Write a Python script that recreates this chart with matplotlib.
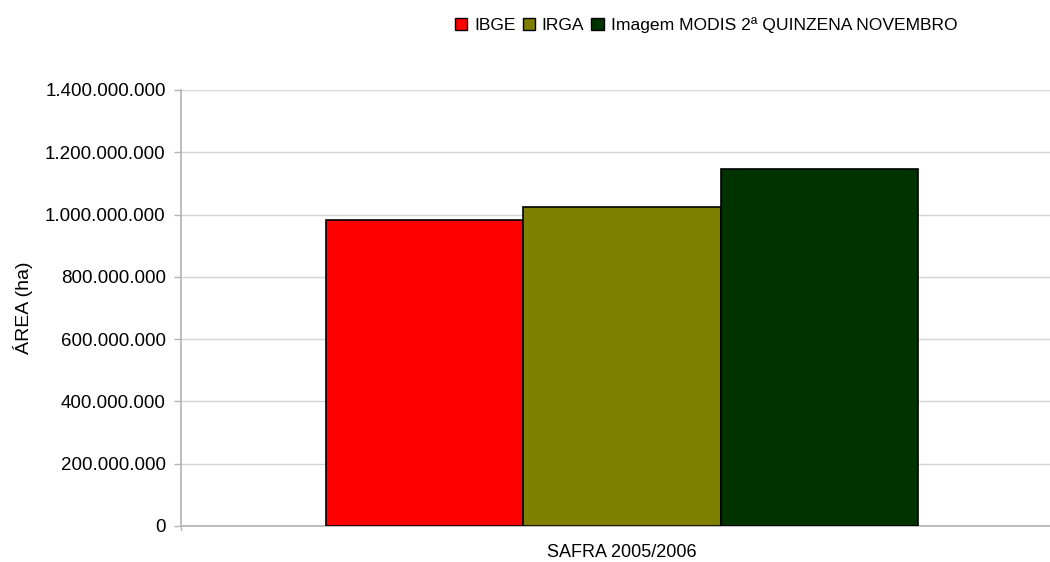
import matplotlib
matplotlib.use("Agg")
import matplotlib.pyplot as plt
from matplotlib.ticker import FuncFormatter
from matplotlib.patches import Patch

plt.rcParams['font.family'] = ['Liberation Sans', 'DejaVu Sans']

# Data
category = "SAFRA 2005/2006"
series_names = ["IBGE", "IRGA", "Imagem MODIS 2ª QUINZENA NOVEMBRO"]
series_values = [983_000_000, 1_025_000_000, 1_147_000_000]
series_colors = ["#ff0000", "#808000", "#003300"]
y_ticks = [0, 200_000_000, 400_000_000, 600_000_000, 800_000_000,
           1_000_000_000, 1_200_000_000, 1_400_000_000]

fig = plt.figure(figsize=(10.5, 5.62), dpi=100)
ax = fig.add_axes([181 / 1050, 1 - 526 / 562, (1050 - 181) / 1050, (526 - 90) / 562])

bar_w = 0.2235
offsets = [-bar_w, 0.0, bar_w]
for name, val, col, off in zip(series_names, series_values, series_colors, offsets):
    ax.bar(off, val, width=bar_w, color=col, edgecolor="black", linewidth=1.2,
           label=name, zorder=3)

ax.set_xlim(-0.5, 0.5 - 13 / 882)
ax.set_ylim(0, 1_400_000_000)
ax.set_yticks(y_ticks)
ax.yaxis.set_major_formatter(FuncFormatter(lambda v, p: f"{int(v):,}".replace(",", ".")))
ax.set_xticks([0])
ax.set_xticklabels([category])

ax.grid(axis="y", color="#d4d4d4", linewidth=1.0, zorder=0)
for s in ["top", "right"]:
    ax.spines[s].set_visible(False)
for s in ["left", "bottom"]:
    ax.spines[s].set_color("#b3b3b3")
    ax.spines[s].set_linewidth(1.2)

ax.tick_params(axis="y", colors="#b3b3b3", labelcolor="#000000", length=5,
               width=1.0, labelsize=13.5, pad=6)
ax.tick_params(axis="x", length=0, labelsize=13, pad=13)
ax.set_ylabel("ÁREA (ha)", fontsize=14)
ax.yaxis.set_label_coords((33 - 181) / 869, 0.5)

# small tick at the left end of the category axis
ax.plot([-0.5, -0.5], [0, -12_000_000], color="#b3b3b3", lw=1.0, clip_on=False)

handles = [Patch(facecolor=c, edgecolor="black", linewidth=1.0) for c in series_colors]
fig.legend(handles, series_names, loc="center", bbox_to_anchor=(706 / 1050, 1 - 25 / 562),
           ncol=3, frameon=False, fontsize=12.6, handlelength=0.7, handleheight=0.7,
           handletextpad=0.4, columnspacing=0.4, borderpad=0)

fig.savefig("out.png", dpi=100)
